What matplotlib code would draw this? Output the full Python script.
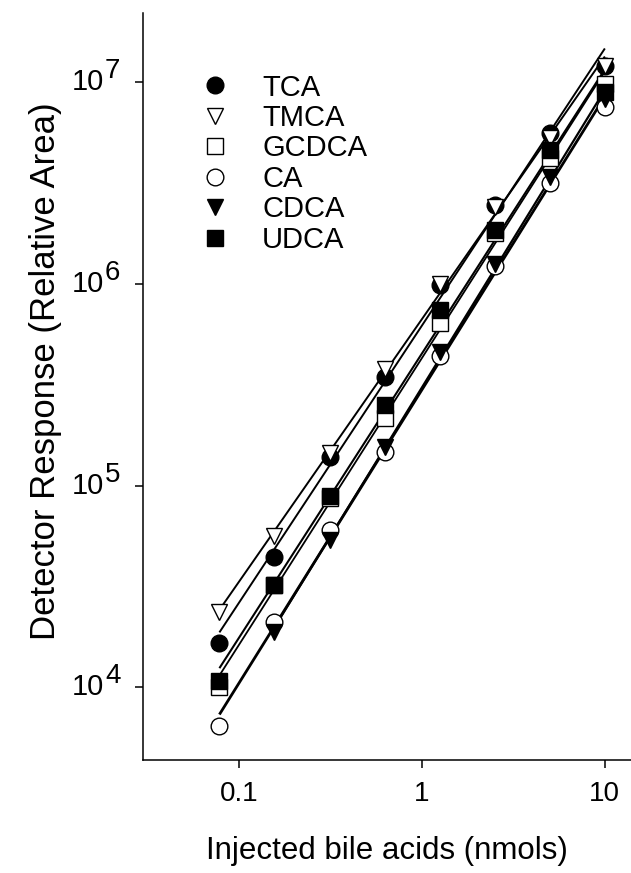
import numpy as np
import matplotlib
matplotlib.use('Agg')
import matplotlib.pyplot as plt
from matplotlib.ticker import FixedLocator, FixedFormatter, NullLocator, NullFormatter

plt.rcParams['font.family'] = ['Liberation Sans', 'DejaVu Sans']

# injected amount (nmol), twofold dilution series
nmols = [0.078, 0.156, 0.3125, 0.625, 1.25, 2.5, 5, 10]

names = ['TCA', 'TMCA', 'GCDCA', 'CA', 'CDCA', 'UDCA']
tca = [1.66e4, 4.4e4, 1.39e5, 3.45e5, 9.9e5, 2.45e6, 5.6e6, 1.2e7]
tmca = [2.35e4, 5.6e4, 1.45e5, 3.8e5, 1.0e6, 2.4e6, 5.3e6, 1.2e7]
gcdca = [1.0e4, 3.2e4, 8.7e4, 2.15e5, 6.4e5, 1.78e6, 4.2e6, 9.8e6]
ca = [6.4e3, 2.1e4, 6.0e4, 1.47e5, 4.4e5, 1.22e6, 3.15e6, 7.5e6]
cdca = [np.nan, 1.87e4, 5.4e4, 1.56e5, 4.6e5, 1.26e6, 3.4e6, 8.2e6]
udca = [1.08e4, 3.2e4, 8.9e4, 2.5e5, 7.4e5, 1.85e6, 4.6e6, 8.9e6]

xticks = [0.1, 1, 10]
xticklabels = ['0.1', '1', '10']
yexp = [4, 5, 6, 7]

series = [tca, tmca, gcdca, ca, cdca, udca]
markers = ['o', 'v', 's', 'o', 'v', 's']
faces = ['black', 'white', 'white', 'white', 'black', 'black']
lwidths = [1.4, 1.4, 1.3, 2.0, 1.6, 1.5]

fig = plt.figure(figsize=(6.31, 8.73), dpi=100)
# axes: left spine x=143px, bottom spine y=760px, top y=13px
ax = fig.add_axes([143 / 631, 1 - 760 / 873, 1 - 143 / 631, (760 - 13) / 873])

handles = []
for name, y, m, fc, lw in zip(names, series, markers, faces, lwidths):
    x = np.array(nmols, dtype=float)
    y = np.array(y, dtype=float)
    ok = ~np.isnan(y)
    # straight fit in log-log space, as in the original figure
    k, b = np.polyfit(np.log10(x[ok]), np.log10(y[ok]), 1)
    xs = np.array([x[ok].min(), 10.0])
    ax.plot(xs, 10 ** (k * np.log10(xs) + b), color='black', lw=lw, zorder=2,
            solid_capstyle='butt')
    h, = ax.plot(x[ok], y[ok], linestyle='none', marker=m, markersize=12,
                 markerfacecolor=fc, markeredgecolor='black', markeredgewidth=1.0,
                 label=name, zorder=3)
    handles.append(h)

ax.set_xscale('log')
ax.set_yscale('log')
ax.set_xlim(0.0298, 13.9)
ax.set_ylim(4360, 2.2e7)

ax.xaxis.set_major_locator(FixedLocator(xticks))
ax.xaxis.set_major_formatter(FixedFormatter(xticklabels))
ax.xaxis.set_minor_locator(NullLocator())
ax.yaxis.set_major_locator(FixedLocator([10.0 ** e for e in yexp]))
ax.yaxis.set_major_formatter(NullFormatter())
ax.yaxis.set_minor_locator(NullLocator())

# y tick labels: "10" with a full size raised exponent
for e in yexp:
    ax.annotate('10', xy=(0, 10.0 ** e), xycoords=('axes fraction', 'data'),
                xytext=(-39, 0), textcoords='offset pixels',
                ha='right', va='center', fontsize=21)
    ax.annotate(str(e), xy=(0, 10.0 ** e), xycoords=('axes fraction', 'data'),
                xytext=(-38, 11), textcoords='offset pixels',
                ha='left', va='center', fontsize=20)

ax.spines['top'].set_visible(False)
ax.spines['right'].set_visible(False)
ax.spines['left'].set_linewidth(1.1)
ax.spines['bottom'].set_linewidth(1.1)
ax.tick_params(axis='x', direction='out', length=6, width=1.1, labelsize=20, pad=9)
ax.tick_params(axis='y', direction='out', length=6, width=1.1)

ax.set_xlabel('Injected bile acids (nmols)', fontsize=22.5, labelpad=21)
ax.set_ylabel('Detector Response (Relative Area)', fontsize=25)
ax.yaxis.set_label_coords(-0.166, 0.52)

ax.legend(handles=handles, loc='upper left', bbox_to_anchor=(0.117, 0.919),
          frameon=False, fontsize=21, handlelength=1.0, handletextpad=1.13,
          labelspacing=0.085, borderaxespad=0, borderpad=0)

fig.savefig('out.png', dpi=100)
